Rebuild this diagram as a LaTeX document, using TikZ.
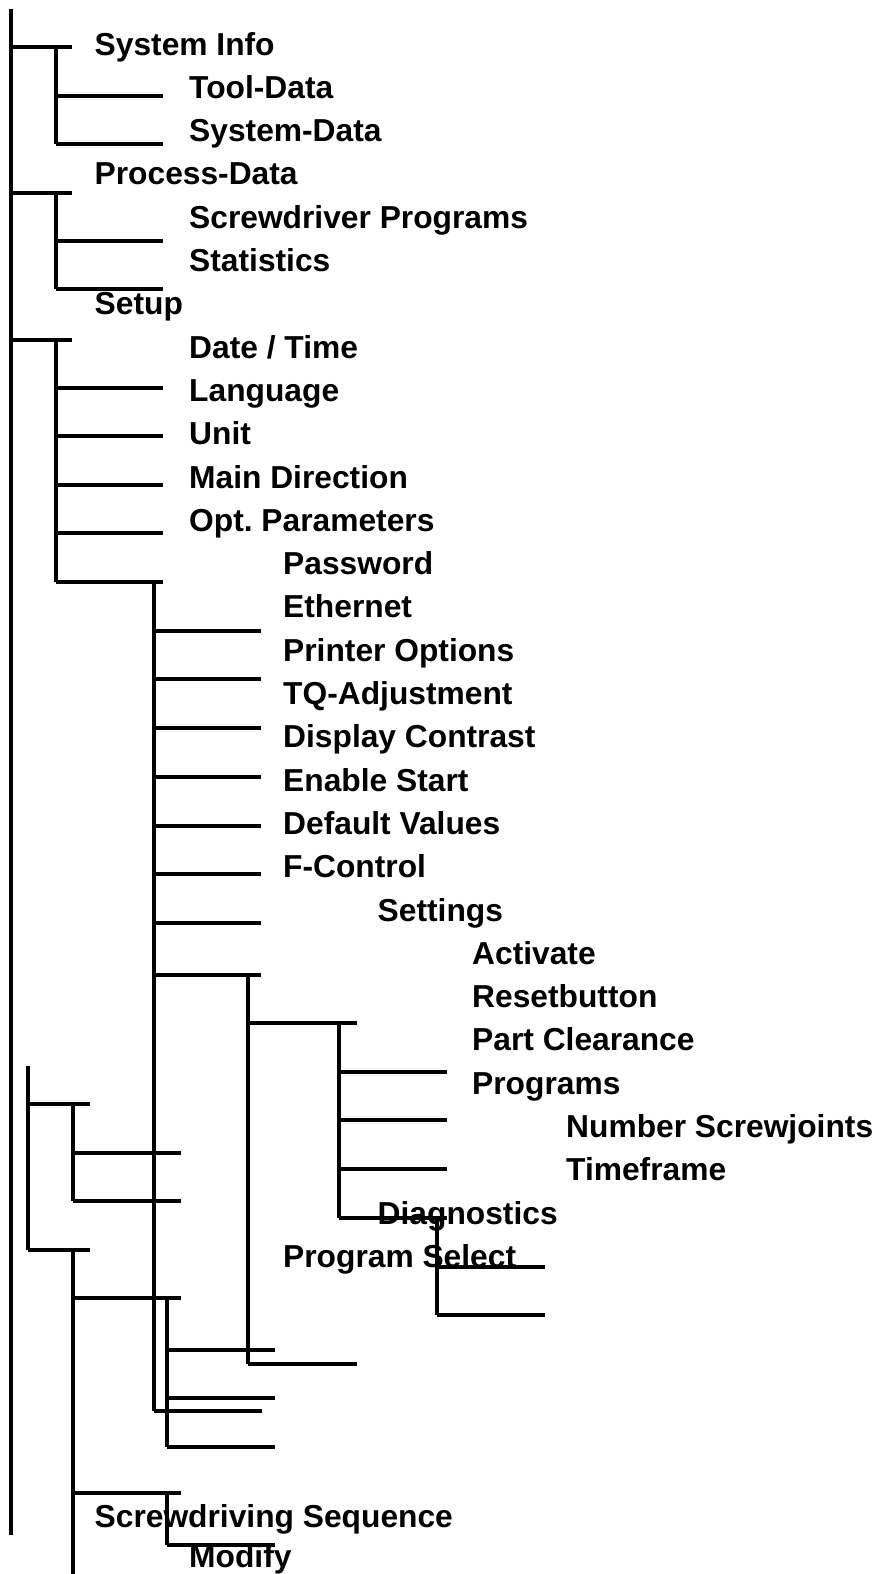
\documentclass[tikz,border=0pt]{standalone}
\usepackage{fontspec}
\setmainfont{Liberation Sans}
\frenchspacing
\begin{document}
\begin{tikzpicture}[x=1pt,y=-1pt,
  ln/.style={line width=3.2pt, line cap=butt},
  lbl/.style={anchor=base west, inner sep=0pt, font=\fontsize{31.75}{38}\selectfont\bfseries}]
\useasboundingbox (0,0) rectangle (878,1574);
% ---- labels (baseline grid 55 + 43.3 i) ----
\node[lbl] (t0)  at (94.5, 55+43.3*0)  {System Info};
\node[lbl] (t1)  at (189,  55+43.3*1)  {Tool-Data};
\node[lbl] (t2)  at (189,  55+43.3*2)  {System-Data};
\node[lbl] (t3)  at (94.5, 55+43.3*3)  {Process-Data};
\node[lbl] (t4)  at (189,  55+43.3*4)  {Screwdriver Programs};
\node[lbl] (t5)  at (189,  55+43.3*5)  {Statistics};
\node[lbl] (t6)  at (94.5, 55+43.3*6)  {Setup};
\node[lbl] (t7)  at (189,  55+43.3*7)  {Date / Time};
\node[lbl] (t8)  at (189,  55+43.3*8)  {Language};
\node[lbl] (t9)  at (189,  55+43.3*9)  {Unit};
\node[lbl] (t10) at (189,  55+43.3*10) {Main Direction};
\node[lbl] (t11) at (189,  55+43.3*11) {Opt. Parameters};
\node[lbl] (t12) at (283,  55+43.3*12) {Password};
\node[lbl] (t13) at (283,  55+43.3*13) {Ethernet};
\node[lbl] (t14) at (283,  55+43.3*14) {Printer Options};
\node[lbl] (t15) at (283,  55+43.3*15) {TQ-Adjustment};
\node[lbl] (t16) at (283,  55+43.3*16) {Display Contrast};
\node[lbl] (t17) at (283,  55+43.3*17) {Enable Start};
\node[lbl] (t18) at (283,  55+43.3*18) {Default Values};
\node[lbl] (t19) at (283,  55+43.3*19) {F-Control};
\node[lbl] (t20) at (377.5,55+43.3*20) {Settings};
\node[lbl] (t21) at (472,  55+43.3*21) {Activate};
\node[lbl] (t22) at (472,  55+43.3*22) {Resetbutton};
\node[lbl] (t23) at (472,  55+43.3*23) {Part Clearance};
\node[lbl] (t24) at (472,  55+43.3*24) {Programs};
\node[lbl] (t25) at (566,  55+43.3*25) {Number Screwjoints};
\node[lbl] (t26) at (566,  55+43.3*26) {Timeframe};
\node[lbl] (t27) at (377.5,55+43.3*27) {Diagnostics};
\node[lbl] (t28) at (283,  55+43.3*28) {Program Select};
\node[lbl] (t34) at (94.5, 55+43.3*34) {Screwdriving Sequence};
\node[lbl] (t35) at (189,  1567) {Modify};
% ---- main tree lines ----
\draw[ln] (11,9) -- (11,1535);
\draw[ln] (11,47) -- (72,47);
\draw[ln] (56,47) -- (56,144);
\foreach \y in {96,144} \draw[ln] (56,\y) -- (163,\y);
\draw[ln] (11,193) -- (72,193);
\draw[ln] (56,193) -- (56,289);
\foreach \y in {241,289} \draw[ln] (56,\y) -- (163,\y);
\draw[ln] (11,340) -- (72,340);
\draw[ln] (56,340) -- (56,582);
\foreach \y in {388,436,485,533,582} \draw[ln] (56,\y) -- (163,\y);
\draw[ln] (154,582) -- (154,1411);
\foreach \y in {631,679,728,777,826,874,923,975} \draw[ln] (154,\y) -- (261,\y);
\draw[ln] (154,1411) -- (262,1411);
\draw[ln] (248,975) -- (248,1364);
\foreach \y in {1023,1364} \draw[ln] (248,\y) -- (357,\y);
\draw[ln] (339,1023) -- (339,1218);
\foreach \y in {1072,1120,1169,1218} \draw[ln] (339,\y) -- (447,\y);
\draw[ln] (437,1218) -- (437,1315);
\foreach \y in {1267,1315} \draw[ln] (437,\y) -- (545,\y);
% ---- lower-left tree lines ----
\draw[ln] (28,1066) -- (28,1250);
\draw[ln] (28,1104) -- (90,1104);
\draw[ln] (73,1104) -- (73,1201);
\foreach \y in {1153,1201} \draw[ln] (73,\y) -- (181,\y);
\draw[ln] (28,1250) -- (90,1250);
\draw[ln] (73,1250) -- (73,1576);
\draw[ln] (73,1298) -- (181,1298);
\draw[ln] (167,1298) -- (167,1447);
\foreach \y in {1350,1398,1447} \draw[ln] (167,\y) -- (275,\y);
\draw[ln] (73,1493) -- (181,1493);
\draw[ln] (167,1493) -- (167,1545);
\draw[ln] (167,1545) -- (275,1545);
\end{tikzpicture}
\end{document}
